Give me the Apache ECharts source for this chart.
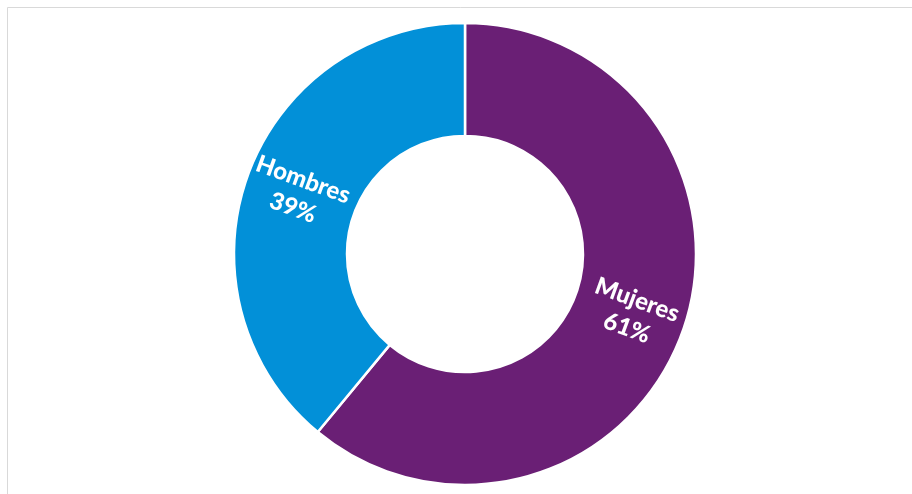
<!DOCTYPE html>
<html>
<head>
<meta charset="utf-8">
<script src="https://cdn.jsdelivr.net/npm/echarts@6/dist/echarts.min.js"></script>
<style>
  html, body { margin: 0; padding: 0; background: #fff; }
  #chart { width: 912px; height: 494px; }
</style>
</head>
<body>
<div id="chart"></div>
<script>
const categories = ['Mujeres', 'Hombres']
const shares = [61, 39]
const colors = ['#6a1f75', '#0290d8']

const chart = echarts.init(document.getElementById('chart'))
chart.setOption({
  animation: false,
  backgroundColor: '#fff',
  graphic: [{
    type: 'rect', silent: true,
    shape: { x: 7.5, y: 7.5, width: 940, height: 520 },
    style: { fill: 'none', stroke: '#d9d9d9', lineWidth: 1 }
  }],
  series: [{
    type: 'pie',
    center: [465, 254],
    radius: [118, 231],
    startAngle: 90,
    clockwise: true,
    itemStyle: { borderColor: '#fff', borderWidth: 2.5 },
    label: {
      show: true, position: 'inside', rotate: -20,
      formatter: p => `${p.name}\n${p.value}%`,
      color: '#fff', fontFamily: 'Lato', fontWeight: 900, fontSize: 24, lineHeight: 30
    },
    labelLine: { show: false },
    data: categories.map((c, i) => ({ name: c, value: shares[i], itemStyle: { color: colors[i] } }))
  }]
})
</script>
</body>
</html>
